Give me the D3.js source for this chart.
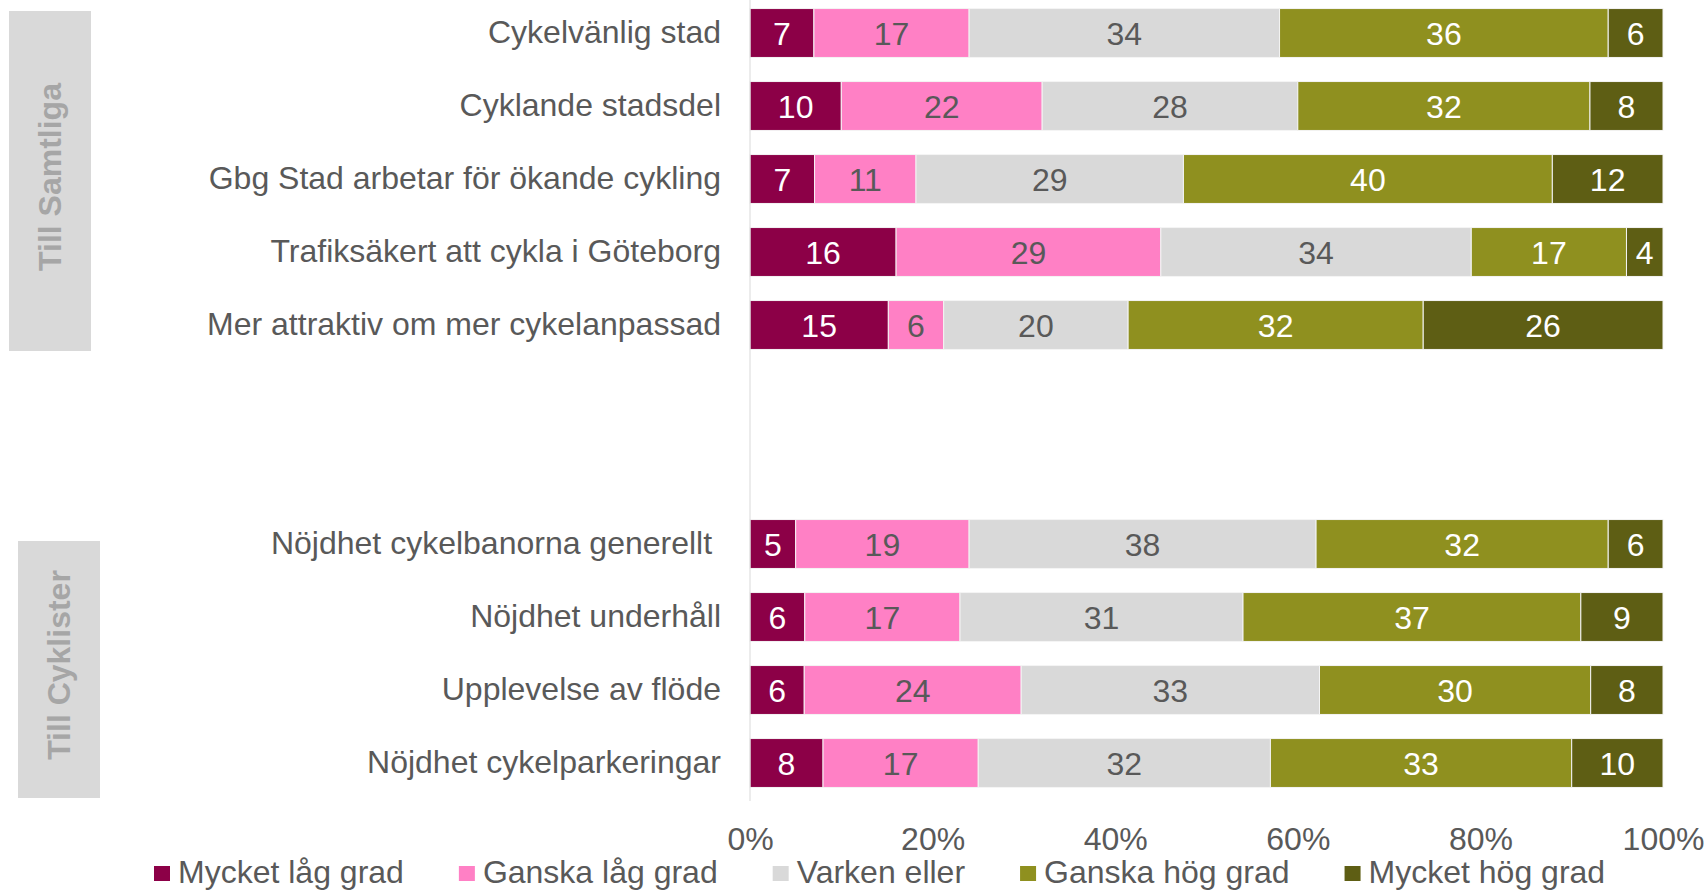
<!DOCTYPE html>
<html>
<head>
<meta charset="utf-8">
<script src="https://cdn.jsdelivr.net/npm/d3@7"></script>
<style>
  body { margin: 0; background: #fff; }
  svg { display: block; font-family: "Liberation Sans", Arial, sans-serif; }
</style>
</head>
<body>
<svg id="chart" width="1708" height="891"></svg>
<script>
// categories, top to bottom, in two groups
const samtliga = [
    'Cykelvänlig stad',
    'Cyklande stadsdel',
    'Gbg Stad arbetar för ökande cykling',
    'Trafiksäkert att cykla i Göteborg',
    'Mer attraktiv om mer cykelanpassad'
]
const cyklister = [
    'Nöjdhet cykelbanorna generellt ',
    'Nöjdhet underhåll',
    'Upplevelse av flöde',
    'Nöjdhet cykelparkeringar'
]

const seriesNames = ['Mycket låg grad', 'Ganska låg grad', 'Varken eller', 'Ganska hög grad', 'Mycket hög grad']

// values per series, same order as samtliga then cyklister
const mycketLag = [7, 10, 7, 16, 15, 5, 6, 6, 8]
const ganskaLag = [17, 22, 11, 29, 6, 19, 17, 24, 17]
const varken    = [34, 28, 29, 34, 20, 38, 31, 33, 32]
const ganskaHog = [36, 32, 40, 17, 32, 32, 37, 30, 33]
const mycketHog = [6, 8, 12, 4, 26, 6, 9, 8, 10]

const tickValues = [0, 0.2, 0.4, 0.6, 0.8, 1]

const colors = ['#8C0047', '#FF80C5', '#D9D9D9', '#8F901F', '#5E5E14']
const labelColors = ['#fff', '#595959', '#595959', '#fff', '#fff']
const textGray = '#595959'

const categories = [...samtliga, ...cyklister]
const seriesValues = [mycketLag, ganskaLag, varken, ganskaHog, mycketHog]

const rows = categories.map((cat, i) => {
    const row = { cat }
    seriesNames.forEach((s, j) => { row[s] = seriesValues[j][i] })
    return row
})

const stacked = d3.stack().keys(seriesNames).offset(d3.stackOffsetExpand)(rows)

const svg = d3.select('#chart')

// two empty slots between the groups
const domain = [...samtliga, 'gap1', 'gap2', ...cyklister]

const x = d3.scaleLinear().domain([0, 1]).range([750, 1663])
const y = d3.scaleBand()
    .domain(domain)
    .range([-3.5, 799.5])
    .paddingInner(0.33)
    .paddingOuter(0.165)

// --- group boxes ---
const boxes = [
    { label: 'Till Samtliga', x: 9, y: 11, w: 82, h: 340, ty: 177 },
    { label: 'Till Cyklister', x: 18, y: 541, w: 82, h: 257, ty: 665 }
]
boxes.forEach(b => {
    svg.append('rect')
        .attr('x', b.x).attr('y', b.y)
        .attr('width', b.w).attr('height', b.h)
        .attr('fill', '#d9d9d9')
    svg.append('text')
        .attr('transform', `translate(${b.x + b.w / 2},${b.ty}) rotate(-90)`)
        .attr('text-anchor', 'middle')
        .attr('dy', '0.35em')
        .attr('font-size', 32)
        .attr('font-weight', 'bold')
        .attr('fill', '#a6a6a6')
        .text(b.label)
})

// --- bars ---
const layers = svg.append('g')
    .selectAll('g')
    .data(stacked)
    .join('g')
    .attr('fill', (d, i) => colors[i])

layers.selectAll('rect')
    .data(d => d)
    .join('rect')
    .attr('x', d => x(d[0]))
    .attr('y', d => y(d.data.cat))
    .attr('width', d => x(d[1]) - x(d[0]))
    .attr('height', y.bandwidth())
    .attr('stroke', '#f4f4f4')
    .attr('stroke-width', 1)

// data labels
stacked.forEach((layer, i) => {
    svg.append('g')
        .selectAll('text')
        .data(layer)
        .join('text')
        .attr('x', d => (x(d[0]) + x(d[1])) / 2)
        .attr('y', d => y(d.data.cat) + y.bandwidth() / 2)
        .attr('dy', '0.37em')
        .attr('text-anchor', 'middle')
        .attr('font-size', 32)
        .attr('fill', labelColors[i])
        .text(d => d.data[layer.key])
})

// --- axes ---
svg.append('line')
    .attr('x1', x(0)).attr('x2', x(0))
    .attr('y1', 0).attr('y2', 801)
    .attr('stroke', '#d9d9d9')
    .attr('stroke-width', 1)

const yAxis = svg.append('g')
    .attr('transform', `translate(${x(0)},0)`)
    .call(d3.axisLeft(y).tickSize(0).tickPadding(29)
        .tickFormat(d => d.startsWith('gap') ? '' : d))
yAxis.select('.domain').remove()
yAxis.selectAll('text')
    .attr('font-size', 32)
    .attr('fill', textGray)
    .style('white-space', 'pre')

const xAxis = svg.append('g')
    .attr('transform', 'translate(0,801)')
    .call(d3.axisBottom(x).tickValues(tickValues).tickSize(0).tickPadding(26)
        .tickFormat(d3.format('.0%')))
xAxis.select('.domain').remove()
xAxis.selectAll('text')
    .attr('font-size', 32)
    .attr('fill', textGray)
svg.selectAll('.tick').attr('font-family', null)
yAxis.attr('font-family', null)
xAxis.attr('font-family', null)

// --- legend --- (raised a touch so descenders stay inside)
const legend = svg.append('g')
let lx = 154
seriesNames.forEach((name, i) => {
    legend.append('rect')
        .attr('x', lx).attr('y', 866)
        .attr('width', 16).attr('height', 15)
        .attr('fill', colors[i])
    const t = legend.append('text')
        .attr('x', lx + 24).attr('y', 883)
        .attr('font-size', 32)
        .attr('fill', textGray)
        .text(name)
    lx += 24 + t.node().getComputedTextLength() + 55
})
</script>
</body>
</html>
